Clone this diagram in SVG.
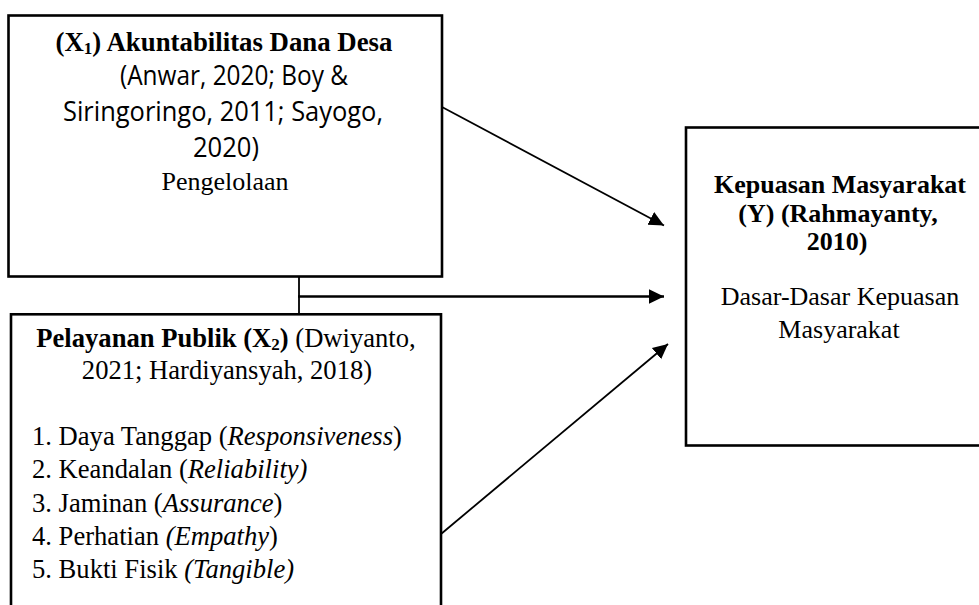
<svg xmlns="http://www.w3.org/2000/svg" width="979" height="605" viewBox="0 0 979 605">
<style>
.box{fill:#fff;stroke:#000;stroke-width:2.6}
.ln{fill:none;stroke:#000;stroke-width:1.8}
.lnh{fill:none;stroke:#000;stroke-width:2.4}
.s{font-family:"Liberation Serif","Times New Roman",serif;font-size:26px;fill:#000}
.s2{font-size:26.6px}
.b{font-weight:bold}
.i{font-style:italic}
.sans{font-family:"Open Sans","Noto Sans","Liberation Sans",sans-serif;font-size:27px;fill:#000}
.sub{font-size:17px}
</style>
<defs>
<marker id="ah" markerUnits="userSpaceOnUse" markerWidth="16" markerHeight="16" viewBox="0 0 16 16" refX="15" refY="8" orient="auto">
<path d="M0,0.8 L15,8 L0,15.2 Z" fill="#000"/>
</marker>
</defs>
<g id="connectors">
<line class="ln" x1="299" y1="277" x2="299" y2="314"/>
<line class="lnh" x1="298" y1="296.5" x2="664" y2="296.5" marker-end="url(#ah)"/>
<line class="ln" x1="442" y1="107" x2="664" y2="225.5" marker-end="url(#ah)"/>
<line class="ln" x1="441" y1="534" x2="668" y2="344" marker-end="url(#ah)"/>
</g>
<g id="node-x1">
<rect class="box" x="8.5" y="15.5" width="433.5" height="261"/>
<text class="s s2 b" x="224" y="51" text-anchor="middle" style="font-size:26.8px">(X<tspan class="sub" dy="3">1</tspan><tspan dy="-3">) Akuntabilitas Dana Desa</tspan></text>
<text class="sans" x="120" y="85" textLength="228" lengthAdjust="spacingAndGlyphs">(Anwar, 2020; Boy &amp;</text>
<text class="sans" x="63" y="121" textLength="320" lengthAdjust="spacingAndGlyphs">Siringoringo, 2011; Sayogo,</text>
<text class="sans" x="193" y="157" textLength="66" lengthAdjust="spacingAndGlyphs">2020)</text>
<text class="s" x="225" y="190" text-anchor="middle">Pengelolaan</text>
</g>
<g id="node-x2">
<rect class="box" x="11" y="314.3" width="430" height="320"/>
<text class="s s2" x="226" y="347" text-anchor="middle"><tspan class="b">Pelayanan Publik (X</tspan><tspan class="b sub" dy="3">2</tspan><tspan class="b" dy="-3">)</tspan> (Dwiyanto,</text>
<text class="s s2" x="227" y="379" text-anchor="middle">2021; Hardiyansyah, 2018)</text>
<text class="s s2" x="32" y="445">1. Daya Tanggap (<tspan class="i">Responsiveness</tspan>)</text>
<text class="s s2" x="32" y="478">2. Keandalan (<tspan class="i">Reliability)</tspan></text>
<text class="s s2" x="32" y="511.5">3. Jaminan (<tspan class="i">Assurance</tspan>)</text>
<text class="s s2" x="32" y="545">4. Perhatian <tspan class="i">(Empathy</tspan>)</text>
<text class="s s2" x="32" y="578">5. Bukti Fisik <tspan class="i">(Tangible)</tspan></text>
</g>
<g id="node-y">
<rect class="box" x="686" y="127.5" width="320" height="318"/>
<text class="s b" x="840" y="193" text-anchor="middle">Kepuasan Masyarakat</text>
<text class="s b" x="838" y="222" text-anchor="middle">(Y) (Rahmayanty,</text>
<text class="s b" x="837" y="250" text-anchor="middle">2010)</text>
<text class="s" x="840" y="305" text-anchor="middle">Dasar-Dasar Kepuasan</text>
<text class="s" x="839" y="338" text-anchor="middle">Masyarakat</text>
</g>
</svg>
